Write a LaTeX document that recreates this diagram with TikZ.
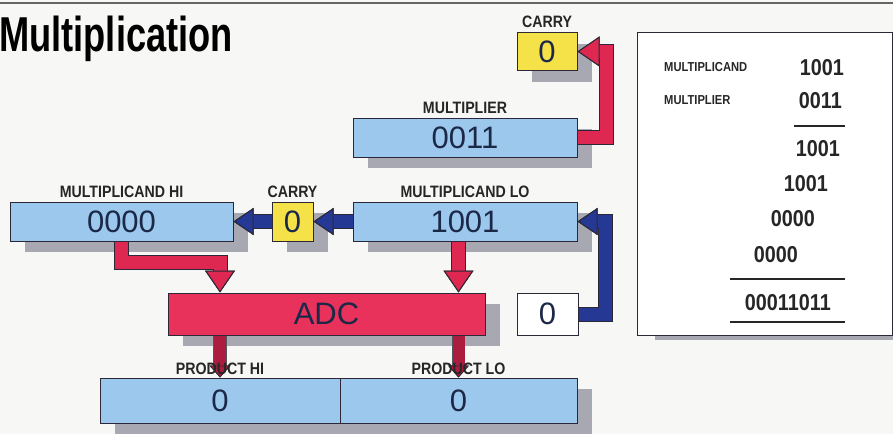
\documentclass[tikz,border=0pt]{standalone}
\usepackage{fontspec}
\setmainfont{Liberation Sans}
\newfontfamily\condfont[FakeStretch=0.86]{Liberation Sans}
\newfontfamily\titlefont[FakeStretch=0.74]{Liberation Sans}
\usetikzlibrary{positioning, arrows.meta, shadows}
\definecolor{cBg}{RGB}{247,247,245}
\definecolor{cReg}{RGB}{155,200,236}
\definecolor{cCarry}{RGB}{245,226,72}
\definecolor{cAdc}{RGB}{232,50,92}
\definecolor{cRed}{RGB}{222,40,82}
\definecolor{cDark}{RGB}{172,28,62}
\definecolor{cBlue}{RGB}{36,56,148}
\definecolor{cEdge}{RGB}{45,40,55}
\definecolor{cShadow}{RGB}{168,168,178}
\definecolor{cDigit}{RGB}{28,40,72}

\begin{document}
\begin{tikzpicture}[x=1pt, y=-1pt,
    box/.style={draw=cEdge, line width=1pt, inner sep=0pt, minimum height=39pt,
                font=\fontsize{31}{31}\selectfont, text=cDigit},
    reg/.style={box, fill=cReg,
                drop shadow={shadow xshift=15pt, shadow yshift=-11pt, fill=cShadow, opacity=1}},
    lbl/.style={font=\condfont\bfseries\fontsize{16.5}{16.5}\selectfont, text=black!85, inner sep=2pt},
    sumtxt/.style={font=\condfont\bfseries\fontsize{23}{23}\selectfont, text=black!85, inner sep=0pt},
    small/.style={font=\condfont\bfseries\fontsize{13}{13}\selectfont, text=black!85, inner sep=0pt},
    band/.style={line width=13pt, preaction={draw=cEdge, line width=15pt}},
    redarrow/.style={band, draw=cRed,
                     -{Triangle[width=30pt, length=22pt, line width=1pt, color=cEdge, fill=cRed]}},
    bluearrow/.style={band, draw=cBlue,
                      -{Triangle[width=27pt, length=20pt, line width=1pt, color=cEdge, fill=cBlue]}},
    outarrow/.style={line width=12pt, draw=cDark, preaction={draw=cEdge!80, line width=13.5pt},
                     -{Triangle[width=21pt, length=12pt, line width=0.8pt, color=cEdge, fill=cDark]}}]

    \useasboundingbox (0,0) rectangle (893,434);
    \fill[cBg] (0,0) rectangle (893,434);
    \draw[line width=2pt, black!60] (0,3) -- (893,3);

    % Title
    \node[font=\titlefont\bfseries\fontsize{49}{49}\selectfont, anchor=base west, inner sep=0pt]
        (title) at (-1,51) {Multiplication};

    % Registers
    \node[reg, fill=cCarry, minimum width=60pt, minimum height=38pt] (carryA) at (547,51.5) {0};
    \node[reg, minimum width=224pt] (mier) at (465,137.5) {0011};
    \node[reg, minimum width=223pt] (mhi) at (121.5,221.5) {0000};
    \node[reg, fill=cCarry, minimum width=41pt] (carryB) at (292.5,221.5) {0};
    \node[reg, minimum width=224pt] (mlo) at (465,221.5) {1001};
    \node[reg, fill=cAdc, minimum width=317pt, minimum height=42pt] (adc) at (326.5,314) {ADC};
    \node[box, fill=white, minimum width=61pt, minimum height=42pt] (zero) at (547.5,314) {0};
    \node[reg, minimum width=240pt, minimum height=45pt] (phi) at (220,400.5) {0};
    \node[reg, minimum width=237pt, minimum height=45pt] (plo) at (458.5,400.5) {0};

    % Labels
    \node[lbl, above=2pt of carryA] (carryALbl) {CARRY};
    \node[lbl, above=2pt of mier] (mierLbl) {MULTIPLIER};
    \node[lbl, above=2pt of mhi] (mhiLbl) {MULTIPLICAND HI};
    \node[lbl, above=2pt of carryB] (carryBLbl) {CARRY};
    \node[lbl, above=2pt of mlo] (mloLbl) {MULTIPLICAND LO};

    % Data paths
    \draw[redarrow] (mier.east) -- ++(29,0) |- (carryA.east);
    \draw[redarrow] (mhi.south) -- ++(0,21) -| (adc.north -| phi.north);
    \draw[redarrow] (mlo.south -| plo.north) -- (adc.north -| plo.north);
    \draw[bluearrow] (mlo.west) -- (carryB.east);
    \draw[bluearrow] (carryB.west) -- (mhi.east);
    \draw[bluearrow] (zero.east) -- ++(27,0) |- (mlo.east);
    \draw[outarrow] (adc.south -| phi.north) -- (phi.north);
    \draw[outarrow] (adc.south -| plo.north) -- (plo.north);

    \node[lbl, above=1pt of phi] (phiLbl) {PRODUCT HI};
    \node[lbl, above=1pt of plo] (ploLbl) {PRODUCT LO};

    % Worked example
    \node[draw=cEdge, line width=1pt, fill=white, minimum width=255pt, minimum height=303pt,
          drop shadow={shadow xshift=18pt, shadow yshift=-5pt, fill=cShadow, opacity=1}]
        (panel) at (764.5,183.5) {};
    \node[small, anchor=west] (candTxt) at (664,67.5) {MULTIPLICAND};
    \node[small, anchor=west] (ierTxt) at (664,100.5) {MULTIPLIER};
    \node[sumtxt, anchor=east] (candNum) at (844,67.5) {1001};
    \node[sumtxt, anchor=east] (ierNum) at (842,101) {0011};
    \node[sumtxt, anchor=east] (pp1) at (840,149) {1001};
    \node[sumtxt, anchor=east] (pp2) at (828,184) {1001};
    \node[sumtxt, anchor=east] (pp3) at (815,219) {0000};
    \node[sumtxt, anchor=east] (pp4) at (798,255) {0000};
    \node[sumtxt, anchor=east] (result) at (831,303) {00011011};
    \draw[line width=1.3pt, black!85] (794,126) -- (845,126);
    \draw[line width=1.3pt, black!85] (730,279) -- (845,279);
    \draw[line width=1.3pt, black!85] (730,322) -- (845,322);

\end{tikzpicture}
\end{document}
